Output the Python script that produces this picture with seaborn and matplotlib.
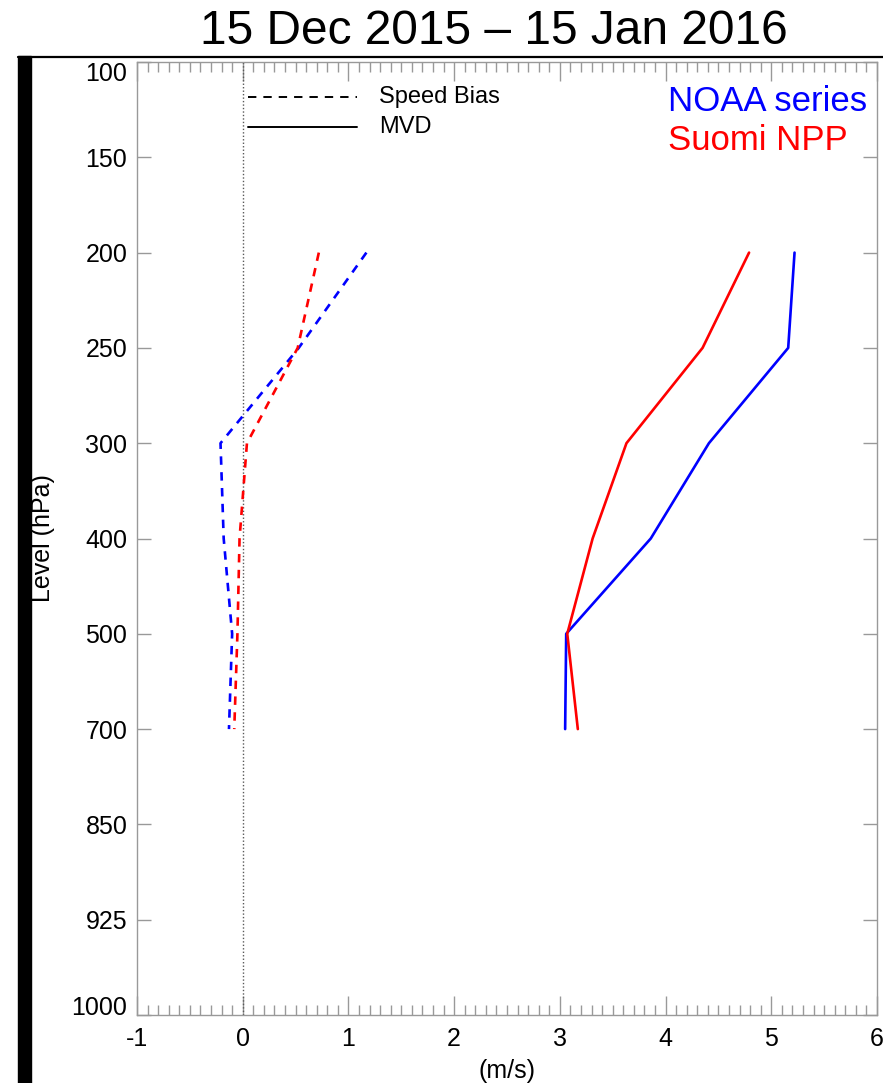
import numpy as np
import pandas as pd
import matplotlib
matplotlib.use("Agg")
import matplotlib.pyplot as plt
from matplotlib.ticker import MultipleLocator
import seaborn as sns

# Pressure levels (hPa), plotted on an evenly spaced axis
levels = [100, 150, 200, 250, 300, 400, 500, 700, 850, 925, 1000]
profile_levels = [200, 250, 300, 400, 500, 700]

# Mean vector difference (m/s)
mvd_noaa = [5.22, 5.16, 4.41, 3.86, 3.06, 3.05]
mvd_npp = [4.79, 4.35, 3.63, 3.31, 3.07, 3.17]

# Speed bias (m/s)
bias_noaa = [1.17, 0.53, -0.21, -0.18, -0.10, -0.13]
bias_npp = [0.72, 0.52, 0.04, -0.03, -0.05, -0.08]

series_names = ["NOAA series", "Suomi NPP"]
metric_names = ["Speed Bias", "MVD"]
colors = {"NOAA series": "#0000ff", "Suomi NPP": "#ff0000"}

level_pos = {lev: i for i, lev in enumerate(levels)}

rows = []
for name, metric, vals in [
    ("NOAA series", "MVD", mvd_noaa),
    ("Suomi NPP", "MVD", mvd_npp),
    ("NOAA series", "Speed Bias", bias_noaa),
    ("Suomi NPP", "Speed Bias", bias_npp),
]:
    for lev, v in zip(profile_levels, vals):
        rows.append({"series": name, "metric": metric, "level": lev,
                     "pos": level_pos[lev], "value": v})
df = pd.DataFrame(rows)

sns.set_theme(style="white")
plt.rcParams["font.family"] = ["Liberation Sans", "DejaVu Sans"]
plt.rcParams["text.color"] = "black"
plt.rcParams["axes.labelcolor"] = "black"
plt.rcParams["xtick.color"] = "black"
plt.rcParams["ytick.color"] = "black"

fig = plt.figure(figsize=(8.83, 10.83), dpi=100)
ax = fig.add_axes([137 / 883, 1 - 1015 / 1083, 740 / 883, 953 / 1083])

sns.lineplot(
    data=df, x="value", y="pos", hue="series", style="metric",
    palette=colors, dashes={"MVD": "", "Speed Bias": (3.2, 2.8)},
    estimator=None, sort=False, orient="y", linewidth=1.9,
    legend=False, ax=ax,
)

# Zero reference line
ax.axvline(0, color="0.35", linestyle=(0, (1, 1.5)), linewidth=1.0, zorder=1)

ax.set_xlim(-1, 6)
ax.set_ylim(len(levels) - 1, 0)
ax.set_yticks(range(len(levels)))
ax.set_yticklabels([str(l) for l in levels])
ax.xaxis.set_major_locator(MultipleLocator(1))
ax.xaxis.set_minor_locator(MultipleLocator(0.1))
ax.set_xticklabels([str(int(t)) for t in ax.get_xticks()])

spine_col = "0.6"
for s in ax.spines.values():
    s.set_color(spine_col)
    s.set_linewidth(1.0)

ax.tick_params(axis="x", which="major", direction="in", length=14, width=1,
               color=spine_col, top=True, bottom=True, labelsize=18, pad=9,
               labelcolor="black")
ax.tick_params(axis="x", which="minor", direction="in", length=7, width=1,
               color=spine_col, top=True, bottom=True)
ax.tick_params(axis="y", which="major", direction="in", length=10, width=1,
               color=spine_col, left=True, right=True, labelsize=18, pad=7,
               labelcolor="black")

# Keep the end labels inside the axis span
ylabels = ax.get_yticklabels()
ylabels[0].set_verticalalignment("top")
ylabels[-1].set_verticalalignment("baseline")

ax.set_xlabel("(m/s)", fontsize=18)
ax.xaxis.set_label_coords(0.5, -0.046)
ax.set_ylabel("Level (hPa)", fontsize=18)
ax.yaxis.set_label_coords(-0.111, 0.5)

# Line-style key
ax.plot([0.15, 0.297], [0.9633, 0.9633], transform=ax.transAxes, color="black",
        linewidth=1.4, linestyle=(0, (4.3, 3.6)))
ax.plot([0.15, 0.297], [0.9318, 0.9318], transform=ax.transAxes, color="black",
        linewidth=1.4)
ax.text(0.327, 0.9633, "Speed Bias", transform=ax.transAxes, fontsize=17,
        va="center", ha="left")
ax.text(0.327, 0.9318, "MVD", transform=ax.transAxes, fontsize=17,
        va="center", ha="left")

# Colour key
ax.text(0.7176, 0.959, "NOAA series", transform=ax.transAxes, fontsize=25,
        va="center", ha="left", color=colors["NOAA series"])
ax.text(0.7176, 0.918, "Suomi NPP", transform=ax.transAxes, fontsize=25,
        va="center", ha="left", color=colors["Suomi NPP"])

fig.text(494 / 883, 1 - 31 / 1083, "15 Dec 2015 \u2013 15 Jan 2016",
         fontsize=34.5, ha="center", va="center")

# Frame edges at the top and left of the panel
fig.add_artist(plt.Line2D([18 / 883, 1.0], [1 - 57 / 1083, 1 - 57 / 1083],
                          color="black", linewidth=1.6,
                          transform=fig.transFigure))
fig.add_artist(plt.Rectangle((18 / 883, 0), 13 / 883, 1 - 56 / 1083,
                             color="black", transform=fig.transFigure))

fig.savefig("out.png", dpi=100)
